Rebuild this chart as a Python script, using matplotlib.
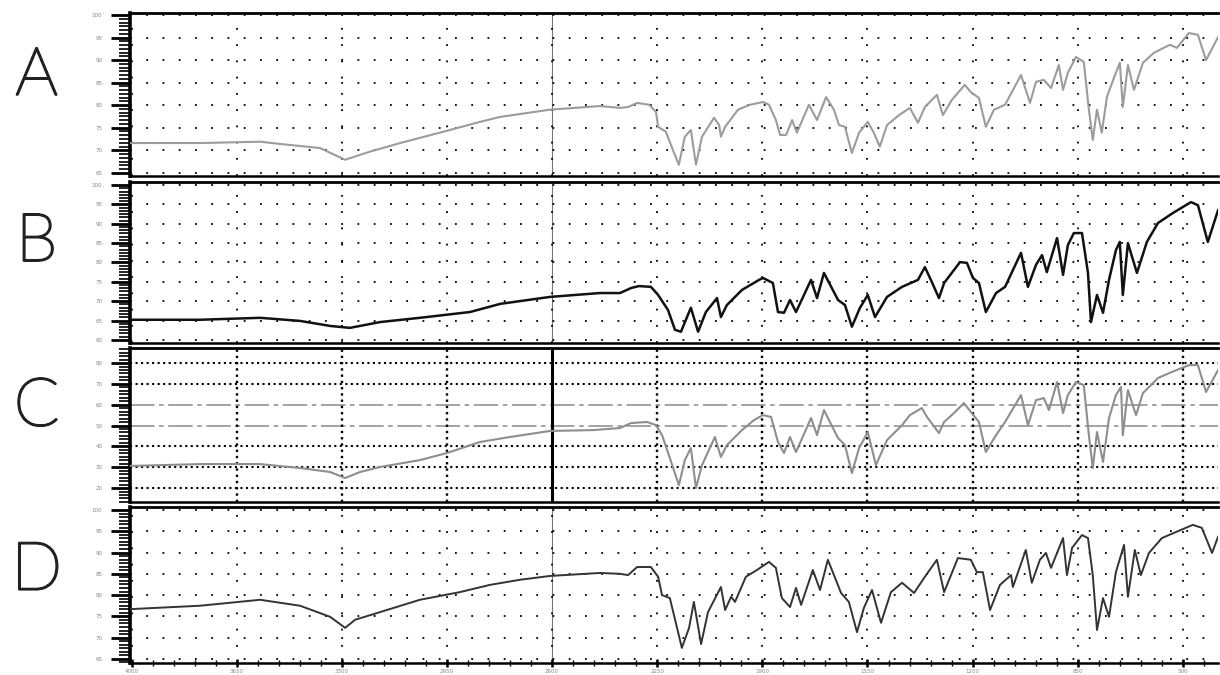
import matplotlib
matplotlib.use("Agg")
import matplotlib.pyplot as plt
import matplotlib.patheffects as pe
from matplotlib.ticker import AutoMinorLocator

# wavenumber (cm-1) / transmittance
wn_a = [4005, 3772, 3572, 3506, 3373, 3289, 3206, 3106, 2940, 2840, 2773, 2607, 2441, 2374, 2347, 2317,
        2277, 2254, 2247, 2221, 2198, 2178, 2158, 2138, 2121, 2101, 2061, 2044, 2038, 2024, 1981, 1941,
        1898, 1878, 1855, 1841, 1821, 1801, 1785, 1745, 1718, 1688, 1662, 1645, 1625, 1602, 1578, 1549,
        1529, 1509, 1485, 1445, 1409, 1382, 1359, 1319, 1299, 1269, 1226, 1206, 1179, 1156, 1129, 1092,
        1039, 1009, 989, 963, 939, 913, 899, 883, 856, 830, 813, 800, 786, 770, 753, 730,
        710, 700, 683, 663, 633, 597, 543, 520, 480, 450, 423, 383]
t_a = [71.6, 71.6, 71.9, 71.4, 70.5, 67.9, 69.7, 71.6, 74.5, 76.3, 77.4, 79.0, 79.8, 79.4, 79.6, 80.5,
       80.1, 78.5, 75.2, 74.1, 70.1, 66.8, 73.0, 74.5, 66.8, 73.0, 77.2, 75.6, 73.0, 75.2, 79.0, 80.1,
       80.7, 80.1, 76.7, 73.4, 73.4, 76.7, 73.9, 80.1, 76.7, 81.8, 79.0, 75.6, 75.2, 69.4, 73.9, 76.3,
       73.9, 70.8, 75.6, 77.8, 79.4, 76.1, 79.6, 82.3, 77.8, 81.2, 84.5, 82.9, 81.6, 75.2, 79.0, 80.1,
       86.7, 80.5, 85.2, 85.6, 83.8, 88.9, 83.4, 87.2, 90.7, 89.6, 79.0, 72.3, 79.0, 73.9, 81.8, 86.0,
       89.4, 79.6, 88.9, 83.4, 89.4, 91.6, 93.4, 92.7, 96.0, 95.6, 90.0, 95.1]

wn_b = [4005, 3772, 3572, 3439, 3339, 3273, 3173, 3040, 2873, 2773, 2607, 2441, 2374, 2337, 2311, 2271,
        2247, 2214, 2191, 2171, 2138, 2114, 2088, 2051, 2038, 2018, 1968, 1911, 1898, 1865, 1848, 1828,
        1808, 1788, 1738, 1718, 1695, 1648, 1625, 1602, 1575, 1549, 1525, 1485, 1435, 1382, 1359, 1339,
        1312, 1295, 1242, 1219, 1199, 1179, 1156, 1122, 1092, 1039, 1016, 989, 969, 953, 919, 899,
        883, 863, 836, 816, 806, 786, 766, 746, 723, 710, 700, 683, 653, 620, 583, 533,
        473, 450, 417, 383]
t_b = [65.2, 65.2, 65.7, 64.9, 63.6, 63.1, 64.6, 65.7, 67.2, 69.3, 71.1, 72.1, 72.1, 73.4, 73.9, 73.7,
       71.6, 67.7, 62.6, 62.1, 68.3, 62.1, 67.2, 70.8, 65.9, 69.0, 72.9, 75.5, 76.0, 74.7, 67.2, 67.0,
       70.3, 67.2, 75.5, 70.8, 77.3, 70.3, 69.0, 63.4, 68.3, 71.6, 65.9, 71.1, 73.7, 75.5, 78.8, 75.5,
       70.8, 74.7, 80.1, 79.9, 76.0, 74.7, 67.2, 72.1, 73.7, 82.5, 73.7, 79.4, 81.9, 77.5, 86.3, 76.8,
       84.5, 87.6, 87.6, 77.3, 64.6, 71.6, 67.0, 75.5, 83.2, 85.3, 71.6, 85.0, 77.3, 85.3, 90.2, 92.8,
       95.6, 94.8, 85.3, 93.5]

wn_c = [4005, 3772, 3572, 3439, 3339, 3289, 3239, 3173, 3040, 2950, 2840, 2740, 2607, 2464, 2374, 2337,
        2284, 2254, 2234, 2208, 2178, 2158, 2138, 2121, 2101, 2058, 2038, 2018, 1968, 1928, 1898, 1871,
        1848, 1828, 1808, 1788, 1738, 1718, 1695, 1648, 1625, 1602, 1578, 1549, 1522, 1485, 1435, 1409,
        1369, 1352, 1312, 1295, 1262, 1229, 1206, 1179, 1156, 1122, 1092, 1039, 1016, 989, 963, 946,
        919, 899, 883, 856, 830, 813, 800, 786, 766, 746, 723, 706, 700, 683, 656, 633,
        583, 537, 480, 450, 423, 383]
t_c = [30.6, 31.5, 31.5, 29.6, 27.7, 24.8, 27.7, 30.1, 33.4, 36.8, 42.1, 44.5, 47.4, 47.8, 48.8, 51.2,
       51.7, 50.2, 45.4, 34.4, 21.4, 33.4, 39.2, 20.0, 31.0, 44.5, 34.9, 40.6, 47.8, 52.6, 55.0, 54.1,
       42.1, 36.8, 44.5, 37.3, 53.6, 45.4, 57.4, 44.0, 40.6, 27.2, 39.2, 46.9, 31.0, 43.0, 50.2, 55.0,
       58.4, 54.1, 46.4, 51.7, 56.0, 60.8, 56.5, 51.7, 37.3, 45.4, 51.7, 64.6, 50.2, 62.2, 63.2, 57.4,
       70.9, 56.0, 64.6, 70.9, 69.4, 45.4, 29.6, 46.9, 32.5, 53.6, 64.6, 68.5, 45.4, 67.0, 55.0, 65.6,
       72.8, 75.7, 79.0, 79.0, 66.1, 76.6]
c_ref_lines = [50, 60]

wn_d = [4005, 3772, 3572, 3439, 3339, 3289, 3256, 3173, 3040, 2907, 2807, 2707, 2607, 2441, 2374, 2347,
        2317, 2271, 2247, 2234, 2208, 2184, 2168, 2144, 2128, 2104, 2081, 2038, 2024, 2004, 1991, 1955,
        1918, 1878, 1855, 1835, 1808, 1788, 1771, 1732, 1708, 1682, 1638, 1612, 1585, 1562, 1535, 1505,
        1472, 1435, 1395, 1359, 1319, 1295, 1249, 1206, 1186, 1166, 1142, 1109, 1072, 1066, 1023, 1003,
        976, 956, 939, 899, 886, 869, 836, 816, 800, 786, 766, 746, 723, 696, 683, 660,
        640, 613, 570, 507, 467, 437, 403, 383]
t_d = [76.7, 77.5, 78.9, 77.5, 74.9, 72.3, 74.2, 76.0, 78.9, 80.7, 82.4, 83.6, 84.5, 85.2, 85.0, 84.7,
       86.6, 86.6, 84.3, 80.0, 79.3, 72.3, 67.6, 72.3, 78.4, 68.5, 76.0, 81.9, 76.5, 79.6, 78.4, 84.3,
       85.9, 87.8, 86.4, 79.3, 77.2, 81.7, 77.7, 85.9, 81.2, 88.3, 80.5, 78.4, 71.3, 77.0, 81.2, 73.5,
       80.7, 82.9, 80.5, 84.3, 88.3, 80.7, 88.7, 88.3, 85.4, 85.4, 76.5, 82.4, 84.7, 81.9, 90.6, 82.9,
       88.3, 89.9, 86.4, 93.4, 84.7, 91.1, 94.1, 93.4, 84.7, 71.8, 79.3, 74.9, 85.4, 91.8, 79.6, 90.6,
       84.7, 89.9, 93.4, 95.3, 96.5, 95.8, 89.9, 93.7]

x_ticks = [4000, 3650, 3300, 2950, 2600, 2250, 1900, 1550, 1200, 850, 500]
ticks_a = [65, 70, 75, 80, 85, 90, 95, 100]
ticks_b = [60, 65, 70, 75, 80, 85, 90, 95, 100]
ticks_c = [20, 30, 40, 50, 60, 70, 80]
ticks_d = [65, 70, 75, 80, 85, 90, 95, 100]

panels = [
    ("A", wn_a, t_a, ticks_a, (64.3, 100.45), "#9c9c9c", 1.5, [0.1066, 0.7393, 0.8918, 0.2415], 0.886),
    ("B", wn_b, t_b, ticks_b, (59.2, 100.8), "#111111", 1.8, [0.1066, 0.4919, 0.8918, 0.2385], 0.640),
    ("C", wn_c, t_c, ticks_c, (13.3, 87.2), "#8e8e8e", 1.5, [0.1066, 0.2563, 0.8918, 0.2281], 0.396),
    ("D", wn_d, t_d, ticks_d, (64.05, 100.7), "#333333", 1.4, [0.1066, 0.0178, 0.8918, 0.2311], 0.153),
]

fig = plt.figure(figsize=(12.2, 6.75), dpi=100)
dots = (0, (1, 8))

for name, wn, t, yt, ylim, col, lw, box, label_y in panels:
    ax = fig.add_axes(box)
    ax.set_xlim(4005, 383)
    ax.set_ylim(*ylim)
    ax.set_yticks(yt)
    ax.set_xticks(x_ticks)
    ax.yaxis.set_minor_locator(AutoMinorLocator(6))
    ax.xaxis.set_minor_locator(AutoMinorLocator(5))

    if name == "C":
        for v in yt:
            if v in c_ref_lines:
                ax.axhline(v, color="#8a8a8a", lw=1.1, dashes=(16, 3, 3, 3), zorder=1)
            else:
                ax.axhline(v, color="k", lw=1.5, ls=":", zorder=1)
        for v in x_ticks[1:]:
            if v == 2600:
                ax.axvline(v, color="k", lw=2.2, zorder=1)
            else:
                ax.axvline(v, color="k", lw=1.7, ls=":", zorder=1)
    else:
        ax.grid(True, which="major", color="k", linestyle=dots, linewidth=1.3, zorder=1)
        ax.axvline(2600, color="#777777", lw=0.8, zorder=1)

    ax.plot(wn, t, color=col, lw=lw, zorder=3)

    ax.spines["right"].set_visible(False)
    ax.spines["left"].set_linewidth(2.6)
    ax.spines["top"].set_linewidth(2.0)
    ax.spines["bottom"].set_linewidth(1.8)

    ax.tick_params(axis="y", which="major", length=14, width=2.0, direction="out",
                   labelsize=4, labelcolor="#888888", pad=6)
    ax.tick_params(axis="y", which="minor", length=8, width=1.2, direction="out")
    if name == "D":
        ax.tick_params(axis="x", which="major", length=6, width=1.8, direction="inout",
                       labelsize=4, labelcolor="#888888", pad=1)
        ax.tick_params(axis="x", which="minor", length=4, width=1.0, direction="inout")
    else:
        ax.tick_params(axis="x", which="both", length=0, labelbottom=False)

    fig.text(0.03, label_y, name, fontsize=48, family=["Lato", "DejaVu Sans"], fontweight="light",
             ha="center", va="center", color="#222222",
             path_effects=[pe.withStroke(linewidth=1.6, foreground="#222222")])

fig.savefig("out.png", dpi=100)
